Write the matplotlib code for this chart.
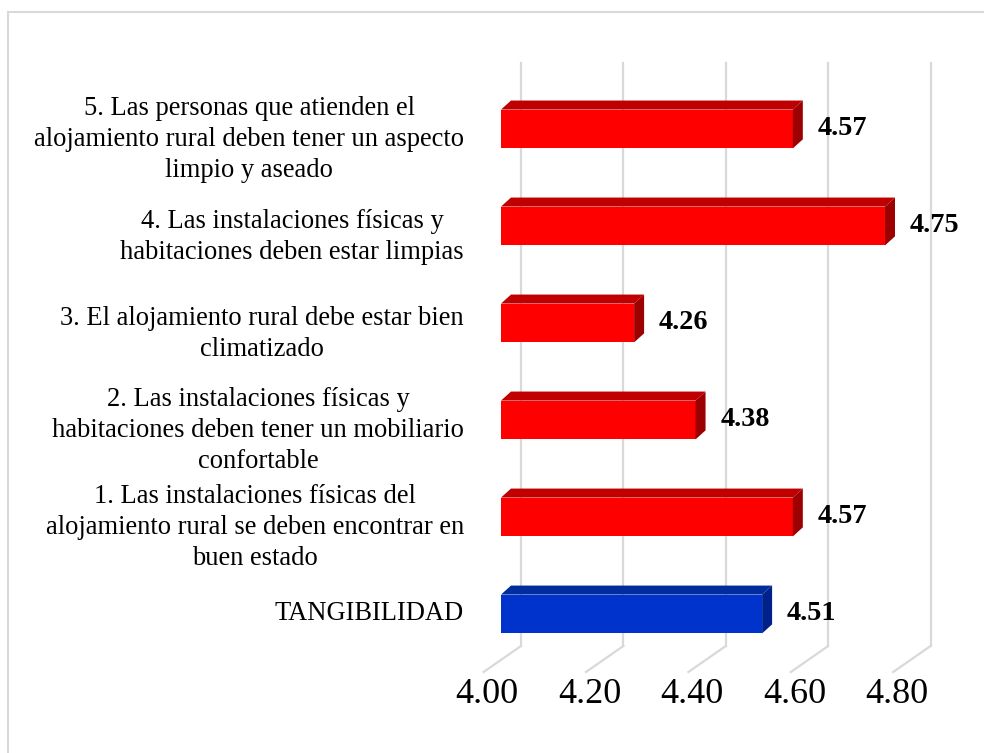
import matplotlib
matplotlib.use("Agg")
import matplotlib.pyplot as plt
import matplotlib.transforms as mtransforms
from matplotlib.patches import Polygon, Rectangle

plt.rcParams['font.family'] = ['Liberation Serif', 'DejaVu Serif']

# data (bottom to top)
categories = [
    "TANGIBILIDAD",
    "1. Las instalaciones físicas del\nalojamiento rural se deben encontrar en\nbuen estado",
    "2. Las instalaciones físicas y\nhabitaciones deben tener un mobiliario\nconfortable",
    "3. El alojamiento rural debe estar bien\nclimatizado",
    "4. Las instalaciones físicas y\nhabitaciones deben estar limpias",
    "5. Las personas que atienden el\nalojamiento rural deben tener un aspecto\nlimpio y aseado",
]
values = [4.51, 4.57, 4.38, 4.26, 4.75, 4.57]
x_ticks = [4.00, 4.20, 4.40, 4.60, 4.80]
x_min, x_max = 4.00, 4.80

# colours: front, top, side
red = ('#FF0000', '#C00000', '#9C0000')
blue = ('#0033CC', '#002C9E', '#00208A')
bar_colors = [blue] + [red] * 5

fig = plt.figure(figsize=(9.84, 7.53), dpi=100)
ax = fig.add_axes([501 / 984, (753 - 646) / 753, 409.6 / 984, 583 / 753])
ax.set_xlim(x_min, x_max)
ax.set_ylim(-0.33, 5.68)
ax.axis('off')

# outer border of the chart area
fig.patches.append(Rectangle((8 / 984, -0.05), 1.1, 1 - 12 / 753 + 0.05,
                             transform=fig.transFigure, fill=False,
                             edgecolor='#D9D9D9', linewidth=1.5))

# depth of the 3D effect (data units)
wall_dx = 0.039
floor_dx, floor_dy = 0.073, 0.268
bar_dx, bar_dy = 0.0195, 0.093
bar_h = 0.40

# gridlines: back wall + floor
grid_tr = mtransforms.blended_transform_factory(ax.transData, ax.transAxes)
for t in x_ticks:
    ax.plot([t + wall_dx, t + wall_dx], [0, 1], color='#D9D9D9', lw=1.6,
            transform=grid_tr, clip_on=False, zorder=1)
    ax.plot([t + wall_dx, t + wall_dx - floor_dx], [-0.33, -0.33 - floor_dy],
            color='#D9D9D9', lw=1.6, clip_on=False, zorder=1)
    ax.text(t - 0.027, -0.83, f"{t:.2f}", ha='center', va='center',
            fontsize=26, color='#000000')

# 3D bars
for i, (v, c) in enumerate(zip(values, bar_colors)):
    front, top, side = c
    y0, y1 = i - bar_h / 2, i + bar_h / 2
    ax.barh(i, v - x_min, left=x_min, height=bar_h, color=front,
            edgecolor='none', zorder=3)
    ax.add_patch(Polygon([(x_min, y1), (v, y1), (v + bar_dx, y1 + bar_dy),
                          (x_min + bar_dx, y1 + bar_dy)],
                         closed=True, facecolor=top, edgecolor='none', zorder=3))
    ax.add_patch(Polygon([(v, y0), (v, y1), (v + bar_dx, y1 + bar_dy),
                          (v + bar_dx, y0 + bar_dy)],
                         closed=True, facecolor=side, edgecolor='none', zorder=3))
    ax.text(v + 0.048, i, f"{v:.2f}", ha='left', va='center',
            fontsize=20.3, fontweight='bold', color='#000000', clip_on=False)

# category labels
lab_tr = mtransforms.blended_transform_factory(fig.transFigure, ax.transData)
for i, lab in enumerate(categories):
    off = 0 if '\n' not in lab else -0.11
    ax.text(464 / 984, i + off, lab, transform=lab_tr, ha='right', va='center',
            multialignment='center', fontsize=19.1, linespacing=1.33,
            color='#000000')

fig.savefig('out.png', dpi=100)
